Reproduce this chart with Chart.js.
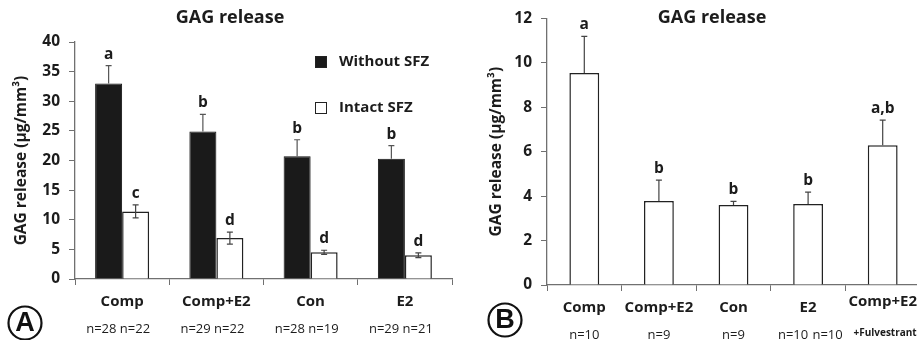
<!DOCTYPE html>
<html>
<head>
<meta charset="utf-8">
<script src="https://cdn.jsdelivr.net/npm/chart.js@4.4.1/dist/chart.umd.min.js"></script>
<style>
  html, body { margin: 0; padding: 0; background: #fff; overflow: hidden; width: 917px; height: 340px; }
  #wrapA { position: absolute; left: 0; top: 0; width: 460px; height: 340px; }
  #wrapB { position: absolute; left: 460px; top: 0; width: 461px; height: 340px; }
</style>
</head>
<body>
<div id="wrapA"><canvas id="chartA" width="460" height="340"></canvas></div>
<div id="wrapB"><canvas id="chartB" width="461" height="340"></canvas></div>
<script>
// ---- panel A data ----
const groupsA = ['Comp', 'Comp+E2', 'Con', 'E2'];
const nA = ['n=28 n=22', 'n=29 n=22', 'n=28 n=19', 'n=29 n=21'];
const withoutSFZ = [33.0, 24.9, 20.7, 20.3];
const withoutSFZErr = [3.0, 2.9, 2.8, 2.2];
const withoutSFZSig = ['a', 'b', 'b', 'b'];
const intactSFZ = [11.4, 6.9, 4.5, 4.0];
const intactSFZErr = [1.1, 1.0, 0.35, 0.4];
const intactSFZSig = ['c', 'd', 'd', 'd'];
const yTicksA = [0, 5, 10, 15, 20, 25, 30, 35, 40];

// ---- panel B data ----
const groupsB = ['Comp', 'Comp+E2', 'Con', 'E2', 'Comp+E2'];
const nB = ['n=10', 'n=9', 'n=9', 'n=10', 'n=10'];
const releaseB = [9.54, 3.78, 3.6, 3.65, 6.29];
const releaseBErr = [1.65, 0.94, 0.16, 0.53, 1.13];
const sigB = ['a', 'b', 'b', 'b', 'a,b'];
const yTicksB = [0, 2, 4, 6, 8, 10, 12];

const FONT = '"Open Sans", sans-serif';
const INK = '#1c1c1c';
const AXIS = '#707070';

// error bars + significance letters
const errorBars = {
  id: 'errorBars',
  afterDatasetsDraw(chart) {
    const ctx = chart.ctx, y = chart.scales.y;
    chart.data.datasets.forEach((ds, di) => {
      chart.getDatasetMeta(di).data.forEach((bar, i) => {
        const v = ds.data[i], e = ds.err[i];
        const top = y.getPixelForValue(v + e);
        const bot = y.getPixelForValue(ds.errDown ? v - e : v);
        ctx.save();
        ctx.strokeStyle = ds.errColor;
        ctx.lineWidth = 1.2;
        ctx.beginPath();
        ctx.moveTo(bar.x, top); ctx.lineTo(bar.x, bot);
        ctx.moveTo(bar.x - 3, top); ctx.lineTo(bar.x + 3, top);
        if (ds.errDown) { ctx.moveTo(bar.x - 3, bot); ctx.lineTo(bar.x + 3, bot); }
        ctx.stroke();
        ctx.fillStyle = INK;
        ctx.font = 'bold 15.5px ' + FONT;
        ctx.textAlign = 'center';
        ctx.textBaseline = 'alphabetic';
        ctx.fillText(ds.sig[i], bar.x, top - 7);
        ctx.restore();
      });
    });
  }
};

function circleLetter(ctx, x, y, letter) {
  ctx.save();
  ctx.strokeStyle = '#111';
  ctx.lineWidth = 2.2;
  ctx.beginPath();
  ctx.arc(x, y, 16.5, 0, Math.PI * 2);
  ctx.stroke();
  ctx.fillStyle = '#111';
  ctx.font = 'bold 27px "Liberation Sans", sans-serif';
  ctx.textAlign = 'center';
  ctx.textBaseline = 'middle';
  ctx.fillText(letter, x, y + 1);
  ctx.restore();
}

const decorA = {
  id: 'decorA',
  afterDraw(chart) {
    const ctx = chart.ctx, x = chart.scales.x;
    ctx.save();
    ctx.fillStyle = INK;
    ctx.textAlign = 'center';
    ctx.textBaseline = 'middle';
    ctx.font = 'bold 18px ' + FONT;
    ctx.fillText('GAG release', 230, 18);
    groupsA.forEach((g, i) => {
      const cx = x.getPixelForValue(i);
      ctx.font = 'bold 15px ' + FONT;
      ctx.fillText(g, cx, 302);
      ctx.font = '13px ' + FONT;
      ctx.fillText(nA[i], cx - 4, 329);
    });
    // legend
    ctx.textAlign = 'left';
    ctx.font = 'bold 15px ' + FONT;
    chart.data.datasets.forEach((ds, i) => {
      const ly = 62 + i * 46;
      ctx.fillStyle = ds.backgroundColor;
      ctx.fillRect(315, ly - 6, 12, 12);
      ctx.strokeStyle = '#222';
      ctx.lineWidth = 1;
      ctx.strokeRect(315.5, ly - 5.5, 11, 11);
      ctx.fillStyle = INK;
      ctx.fillText(ds.label, 339, ly);
    });
    ctx.restore();
    circleLetter(ctx, 25, 323, 'A');
  }
};

const decorB = {
  id: 'decorB',
  afterDraw(chart) {
    const ctx = chart.ctx, x = chart.scales.x;
    const last = groupsB.length - 1;
    ctx.save();
    ctx.fillStyle = INK;
    ctx.textAlign = 'center';
    ctx.textBaseline = 'middle';
    ctx.font = 'bold 18px ' + FONT;
    ctx.fillText('GAG release', 252, 18);
    groupsB.forEach((g, i) => {
      const cx = x.getPixelForValue(i);
      ctx.font = 'bold 15px ' + FONT;
      ctx.textAlign = 'center';
      ctx.fillText(g, cx, i === last ? 302 : 308);
      ctx.font = '13px ' + FONT;
      if (i === last) {
        ctx.textAlign = 'right';
        ctx.fillText(nB[i], cx - 40, 335);
        ctx.font = 'bold 10px ' + FONT;
        ctx.fillText('+Fulvestrant', cx + 34, 333);
      } else {
        ctx.fillText(nB[i], i === 3 ? cx - 15 : cx, 335);
      }
    });
    ctx.restore();
    circleLetter(ctx, 45, 320, 'B');
  }
};

function yAxis(ticks, width, titlePad) {
  return {
    min: ticks[0],
    max: ticks[ticks.length - 1],
    afterBuildTicks: s => { s.ticks = ticks.map(v => ({ value: v })); },
    afterFit: s => { s.width = width; },
    grid: { drawOnChartArea: false, drawTicks: true, tickLength: 6, color: AXIS },
    border: { color: AXIS, width: 1.3 },
    ticks: { font: { family: FONT, size: 15.5, weight: 'bold' }, color: INK, padding: 9 },
    title: {
      display: true,
      text: 'GAG release (µg/mm³)',
      font: { family: FONT, size: 15.5, weight: 'bold' },
      color: INK,
      padding: { top: titlePad, bottom: 0 }
    }
  };
}

function xAxis(height) {
  return {
    afterFit: s => { s.height = height; },
    ticks: { display: false },
    grid: { drawOnChartArea: false, drawTicks: true, tickLength: 6, color: AXIS, offset: true },
    border: { color: AXIS, width: 1.3 }
  };
}

new Chart(document.getElementById('chartA'), {
  type: 'bar',
  data: {
    labels: groupsA,
    datasets: [
      {
        label: 'Without SFZ',
        data: withoutSFZ,
        err: withoutSFZErr,
        sig: withoutSFZSig,
        errDown: false,
        errColor: '#555',
        backgroundColor: '#1a1a1a',
        borderColor: '#111',
        borderWidth: 1
      },
      {
        label: 'Intact SFZ',
        data: intactSFZ,
        err: intactSFZErr,
        sig: intactSFZSig,
        errDown: true,
        errColor: '#444',
        backgroundColor: '#ffffff',
        borderColor: '#222',
        borderWidth: 1.5
      }
    ]
  },
  options: {
    responsive: false,
    animation: false,
    devicePixelRatio: 1,
    categoryPercentage: 0.573,
    barPercentage: 1,
    layout: { padding: { top: 42, right: 8, bottom: 0, left: 0 } },
    plugins: { legend: { display: false }, tooltip: { enabled: false } },
    scales: { x: xAxis(61), y: yAxis(yTicksA, 75, 12) }
  },
  plugins: [errorBars, decorA]
});

new Chart(document.getElementById('chartB'), {
  type: 'bar',
  data: {
    labels: groupsB,
    datasets: [
      {
        label: 'GAG release',
        data: releaseB,
        err: releaseBErr,
        sig: sigB,
        errDown: false,
        errColor: '#444',
        backgroundColor: '#ffffff',
        borderColor: '#222',
        borderWidth: 1.5
      }
    ]
  },
  options: {
    responsive: false,
    animation: false,
    devicePixelRatio: 1,
    categoryPercentage: 0.4,
    barPercentage: 1,
    layout: { padding: { top: 16, right: 1, bottom: 0, left: 0 } },
    plugins: { legend: { display: false }, tooltip: { enabled: false } },
    scales: { x: xAxis(55), y: yAxis(yTicksB, 87, 27) }
  },
  plugins: [errorBars, decorB]
});
</script>
</body>
</html>
